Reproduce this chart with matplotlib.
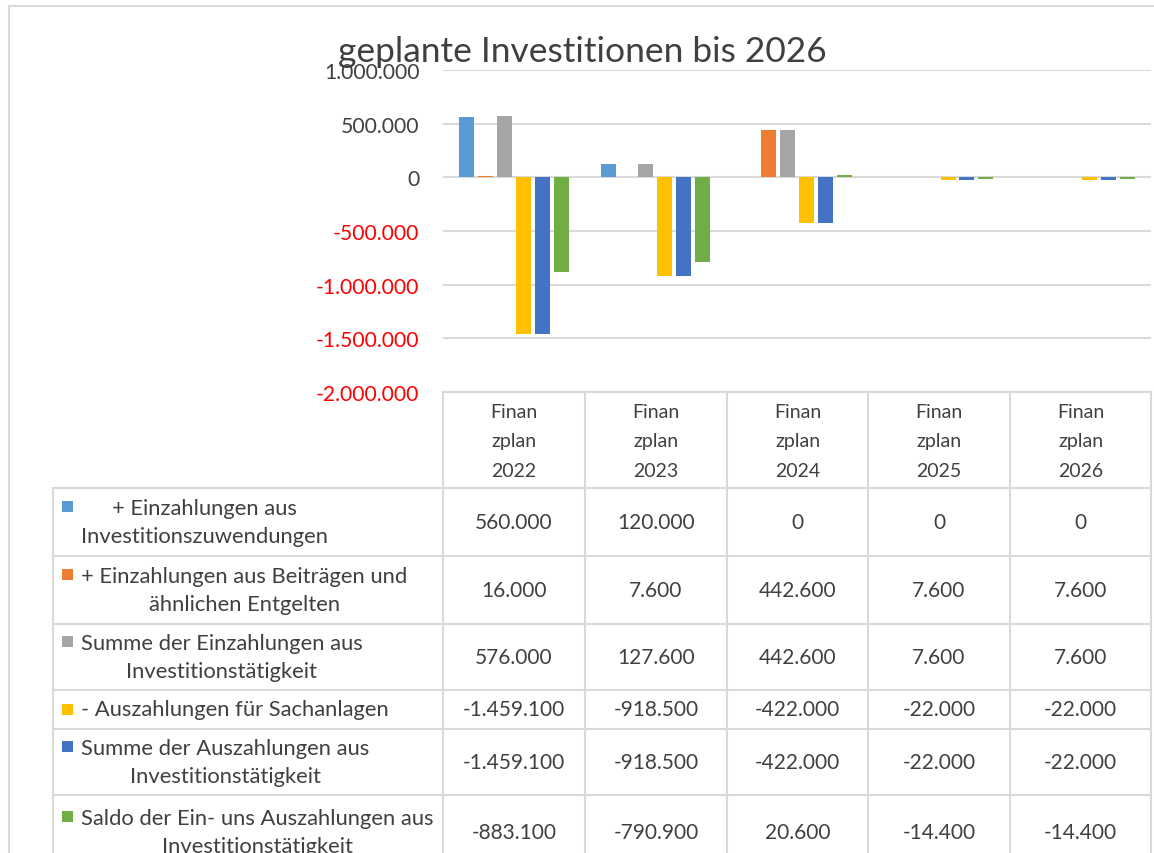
import matplotlib
matplotlib.use('Agg')
import matplotlib.pyplot as plt
from matplotlib.patches import Rectangle

plt.rcParams['font.family'] = ['Lato', 'DejaVu Sans']

# ---- data ----
years = [2022, 2023, 2024, 2025, 2026]
series_names = [
    "+ Einzahlungen aus\nInvestitionszuwendungen",
    "+ Einzahlungen aus Beiträgen und\nähnlichen Entgelten",
    "Summe der Einzahlungen aus\nInvestitionstätigkeit",
    "- Auszahlungen für Sachanlagen",
    "Summe der Auszahlungen aus\nInvestitionstätigkeit",
    "Saldo der Ein- uns Auszahlungen aus\nInvestitionstätigkeit",
]
einz_zuw   = [560000, 120000, 0, 0, 0]
einz_beitr = [16000, 7600, 442600, 7600, 7600]
summe_einz = [576000, 127600, 442600, 7600, 7600]
ausz_sach  = [-1459100, -918500, -422000, -22000, -22000]
summe_ausz = [-1459100, -918500, -422000, -22000, -22000]
saldo      = [-883100, -790900, 20600, -14400, -14400]
series = [einz_zuw, einz_beitr, summe_einz, ausz_sach, summe_ausz, saldo]
yticks = [-2000000, -1500000, -1000000, -500000, 0, 500000, 1000000]

colors = ['#5B9BD5', '#ED7D31', '#A5A5A5', '#FFC000', '#4472C4', '#70AD47']
grid_c = '#D9D9D9'
txt_c = '#404040'

def fmt(v):
    return f"{v:,}".replace(",", ".")

W, H = 1154, 854
fig = plt.figure(figsize=(W/100, H/100), dpi=100)

# pixel layout
ax_l, ax_r, ax_t, ax_b = 443, 1151, 71, 393
col_edges = [443, 585, 727, 868, 1010, 1151]
row_edges = [489, 557, 625, 691, 730, 796, 862]

# table / frame layer in pixel coordinates
tb = fig.add_axes([0, 0, 1, 1])
tb.set_xlim(0, W)
tb.set_ylim(H, 0)
tb.axis('off')

lw = 1.5
# outer chart border
tb.plot([9, W], [7, 7], color=grid_c, lw=lw)
tb.plot([9, 9], [7, H], color=grid_c, lw=lw)

# table grid
tb.plot([ax_l, col_edges[-1]], [ax_b, ax_b], color=grid_c, lw=lw)
for y in row_edges[:-1]:
    tb.plot([53, col_edges[-1]], [y, y], color=grid_c, lw=lw)
tb.plot([53, 53], [row_edges[0], H], color=grid_c, lw=lw)
for x in col_edges:
    tb.plot([x, x], [ax_b, H], color=grid_c, lw=lw)

# header cells
for i, yr in enumerate(years):
    cx = (col_edges[i] + col_edges[i+1]) / 2
    tb.text(cx, (ax_b + row_edges[0]) / 2 + 1, f"Finan\nzplan\n{yr}", ha='center', va='center',
            fontsize=14, color=txt_c, linespacing=1.9)

# series rows
for r, (name, vals) in enumerate(zip(series_names, series)):
    y0, y1 = row_edges[r], row_edges[r+1]
    cy = (y0 + y1) / 2
    if r == 5:
        cy = 833
    nl = name.count('\n') + 1
    first = cy - (nl - 1) * 15
    tb.add_patch(Rectangle((62, first - 6), 11, 11, color=colors[r], lw=0))
    tb.text(81, cy, name, ha='left', va='center', multialignment='center',
            fontsize=15.8, color=txt_c, linespacing=1.5)
    for i, v in enumerate(vals):
        cx = (col_edges[i] + col_edges[i+1]) / 2
        tb.text(cx, cy, fmt(v), ha='center', va='center', fontsize=15, color=txt_c)

# bar chart
ax = fig.add_axes([ax_l / W, 1 - ax_b / H, (ax_r - ax_l) / W, (ax_b - ax_t) / H])
pitch = 0.1335
bw = 0.106
for k, vals in enumerate(series):
    xs = [i + (k - 2.5) * pitch for i in range(len(years))]
    ax.bar(xs, vals, width=bw, color=colors[k], zorder=3)
ax.set_xlim(-0.5, len(years) - 0.5)
ax.set_ylim(-2000000, 1000000)
ax.set_yticks(yticks)
ax.set_yticklabels([fmt(v) for v in yticks], fontsize=15.2)
for lab, v in zip(ax.get_yticklabels(), yticks):
    lab.set_color('#FF0000' if v < 0 else txt_c)
ax.tick_params(axis='y', length=0, pad=17)
ax.set_xticks([])
ax.grid(axis='y', color=grid_c, lw=1.5, zorder=0)
for s in ax.spines.values():
    s.set_visible(False)
ax.patch.set_alpha(0)

fig.text(582 / W, 1 - 52 / H, "geplante Investitionen bis 2026", ha='center', va='center',
         fontsize=25.5, color=txt_c)

fig.savefig('out.png', dpi=100)
